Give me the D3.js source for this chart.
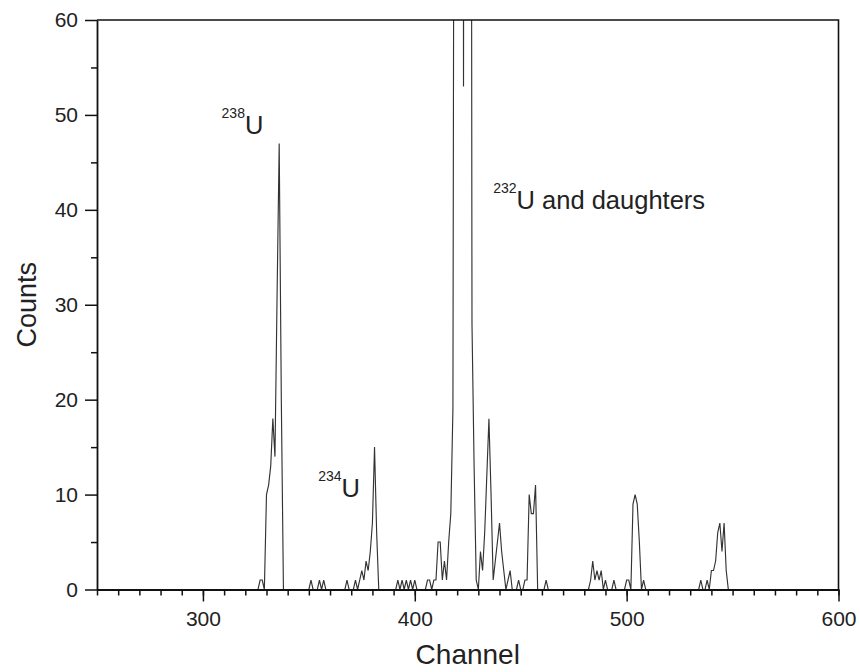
<!DOCTYPE html>
<html>
<head>
<meta charset="utf-8">
<script src="https://cdn.jsdelivr.net/npm/d3@7/dist/d3.min.js"></script>
<style>
  html, body { margin: 0; padding: 0; background: #fff; }
  svg { display: block; font-family: "Liberation Sans", Arial, Helvetica, sans-serif; }
</style>
</head>
<body>
<svg id="chart" width="860" height="672"></svg>
<script>
// ---- data ----
const channels = [
  250, 326, 327, 328, 329, 330, 331, 332, 333, 334, 335, 336, 337, 338,
  350, 351, 352, 354, 355, 356, 357, 358,
  367, 368, 369, 371, 372, 373, 374, 375, 376, 377, 378, 379, 380, 381, 382, 383,
  391, 392, 393, 394, 395, 396, 397, 398, 399, 400, 401,
  405, 406, 407, 408, 409, 410, 411, 412, 413, 414, 415, 416, 417, 418,
  419, 420, 421, 422, 423, 424, 425, 426, 427, 428, 429, 430,
  431, 432, 433, 434, 435, 436, 437, 438, 439, 440, 441, 442, 443, 444, 445, 446,
  448, 449, 450, 451, 452, 453, 454, 455, 456, 457, 458,
  461, 462, 463,
  482, 483, 484, 485, 486, 487, 488, 489, 490, 491,
  493, 494, 495, 499, 500, 501, 502, 503, 504, 505, 506, 507, 508, 509,
  534, 535, 536, 537, 538, 539, 540, 541, 542, 543, 544, 545, 546, 547, 548,
  600
];
const counts = [
  0, 0, 1, 1, 0, 10, 11, 13, 18, 14, 31, 47, 20, 0,
  0, 1, 0, 0, 1, 0, 1, 0,
  0, 1, 0, 0, 1, 0, 1, 2, 1, 3, 2, 4, 7, 15, 6, 0,
  0, 1, 0, 1, 0, 1, 0, 1, 0, 1, 0,
  0, 1, 1, 0, 1, 1, 5, 5, 1, 3, 1, 5, 8, 19,
  150, 250, 300, 280, 53, 290, 260, 220, 28, 13, 1, 0,
  4, 2, 6, 12, 18, 10, 1, 3, 5, 7, 4, 2, 0, 1, 2, 0,
  0, 1, 0, 0, 1, 1, 10, 8, 8, 11, 0,
  0, 1, 0,
  0, 1, 3, 1, 2, 1, 2, 0, 1, 0,
  0, 1, 0, 0, 1, 1, 0, 9, 10, 9, 5, 0, 1, 0,
  0, 1, 0, 0, 1, 0, 2, 2, 3, 6, 7, 4, 7, 2, 0,
  0
];
const xMajorTicks = [300, 400, 500, 600];
const xMinorTicks = d3.range(250, 601, 10);
const yMajorTicks = [0, 10, 20, 30, 40, 50, 60];
const yMinorTicks = [5, 15, 25, 35, 45, 55];
const xTitle = "Channel";
const yTitle = "Counts";
// annotation anchors in data units: [channel, counts]
const labelSup = ["238", "234", "232"];
const labelMain = ["U", "U", "U and daughters"];
const labelChannel = [308.8, 354.4, 437.0];
const labelCount = [48.0, 9.7, 40.1];

// ---- layout ----
const svg = d3.select("#chart");
const mLeft = 97, mRight = 838.5, mTop = 20, mBottom = 589.5;

const x = d3.scaleLinear().domain([250, 600]).range([mLeft, mRight]);
const y = d3.scaleLinear().domain([0, 60]).range([mBottom, mTop]);

svg.append("defs").append("clipPath").attr("id", "plotclip")
  .append("rect").attr("x", mLeft).attr("y", mTop)
  .attr("width", mRight - mLeft).attr("height", mBottom - mTop);

// spectrum line
const pts = channels.map((c, i) => [c, counts[i]]);
svg.append("path")
  .datum(pts)
  .attr("clip-path", "url(#plotclip)")
  .attr("fill", "none")
  .attr("stroke", "#333")
  .attr("stroke-width", 1.15)
  .attr("stroke-linejoin", "miter")
  .attr("d", d3.line().x(d => x(d[0])).y(d => y(d[1])));

// frame (top & right)
svg.append("path")
  .attr("fill", "none").attr("stroke", "#111").attr("stroke-width", 1.6)
  .attr("d", `M${mLeft},${mTop}H${mRight}V${mBottom}`);

const styleAxis = g => {
  g.select(".domain").attr("stroke", "#111").attr("stroke-width", 1.8);
  g.selectAll(".tick line").attr("stroke", "#111").attr("stroke-width", 1.5);
  g.selectAll(".tick text").attr("fill", "#222")
    .attr("font-size", "21px")
    .attr("font-family", "'Liberation Sans', Arial, sans-serif");
};

// x axis
svg.append("g").attr("transform", `translate(0,${mBottom})`)
  .call(d3.axisBottom(x).tickValues(xMinorTicks).tickSize(6).tickFormat("").tickSizeOuter(0))
  .call(styleAxis);
svg.append("g").attr("transform", `translate(0,${mBottom})`)
  .call(d3.axisBottom(x).tickValues(xMajorTicks).tickSize(12).tickPadding(10).tickSizeOuter(0))
  .call(styleAxis)
  .call(g => g.select(".domain").remove());

// y axis
svg.append("g").attr("transform", `translate(${mLeft},0)`)
  .call(d3.axisLeft(y).tickValues(yMinorTicks).tickSize(6).tickFormat("").tickSizeOuter(0))
  .call(styleAxis);
svg.append("g").attr("transform", `translate(${mLeft},0)`)
  .call(d3.axisLeft(y).tickValues(yMajorTicks).tickSize(12).tickPadding(7).tickSizeOuter(0))
  .call(styleAxis)
  .call(g => g.select(".domain").remove());

// axis titles
svg.append("text")
  .attr("x", (mLeft + mRight) / 2).attr("y", 664)
  .attr("text-anchor", "middle")
  .attr("font-size", "28px").attr("fill", "#222")
  .text(xTitle);
svg.append("text")
  .attr("transform", `translate(36,${(mTop + mBottom) / 2}) rotate(-90)`)
  .attr("text-anchor", "middle")
  .attr("font-size", "27px").attr("fill", "#222")
  .text(yTitle);

// peak annotations
labelSup.forEach((s, i) => {
  const t = svg.append("text")
    .attr("x", x(labelChannel[i])).attr("y", y(labelCount[i]))
    .attr("fill", "#222");
  t.append("tspan").attr("font-size", "14px").attr("dy", -16).text(s);
  t.append("tspan").attr("font-size", "25.5px").attr("dy", 16).text(labelMain[i]);
});
</script>
</body>
</html>
